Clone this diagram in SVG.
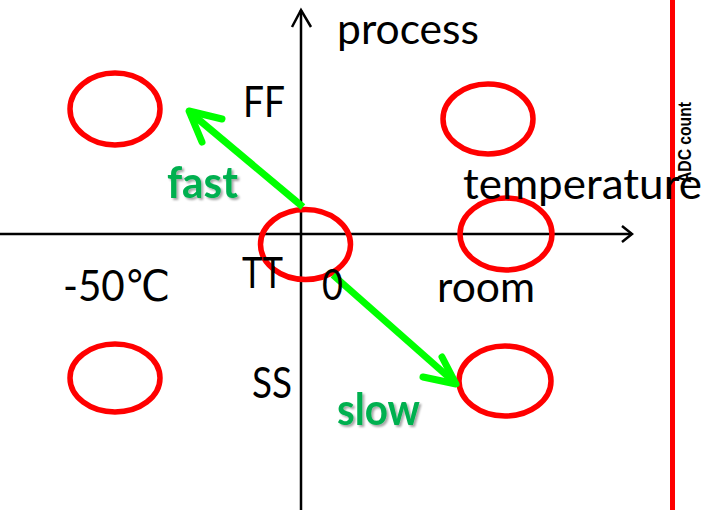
<svg xmlns="http://www.w3.org/2000/svg" width="705" height="510" viewBox="0 0 705 510">
  <style>
    .corner { fill: none; stroke: #ff0000; stroke-width: 5.5; }
    .axis { fill: none; stroke: #000; stroke-width: 2.5; }
    .label { font-family: Lato, "Liberation Sans", "DejaVu Sans", sans-serif; font-size: 43px; fill: #000; }
    .speed { font-family: Lato, "Liberation Sans", sans-serif; font-weight: bold; font-size: 43px; fill: #00b050; filter: url(#shadow); }
    .trend { fill: none; stroke: #00ff00; stroke-width: 7; }
    .head { fill: none; stroke: #00ff00; stroke-width: 7; stroke-linecap: round; stroke-linejoin: round; }
    .adc { font-family: "Liberation Sans", Arial, sans-serif; font-weight: 700; font-size: 19px; fill: #000; }
  </style>
  <defs>
    <filter id="shadow" x="-20%" y="-20%" width="150%" height="150%">
      <feDropShadow dx="2" dy="2" stdDeviation="1" flood-color="#000" flood-opacity="0.35"/>
    </filter>
  </defs>
  <rect width="705" height="510" fill="#fff"/>

  <!-- axes -->
  <g id="axes">
    <line class="axis" x1="301" y1="510" x2="301" y2="10"/>
    <polyline class="axis" points="292,27 301,10 311,27"/>
    <line class="axis" x1="0" y1="234" x2="632" y2="234"/>
    <polyline class="axis" points="622,226 632,234 622,242"/>
  </g>

  <!-- ADC count reference line -->
  <g id="adc">
    <line x1="672.5" y1="0" x2="672.5" y2="510" stroke="#ff0000" stroke-width="5"/>
    <text class="adc" transform="translate(691,183) rotate(-90)" textLength="81" lengthAdjust="spacingAndGlyphs">ADC count</text>
  </g>

  <!-- corner conditions -->
  <g id="ff-cold"><ellipse class="corner" cx="115" cy="109" rx="45" ry="36"/></g>
  <g id="ff-room"><ellipse class="corner" cx="488" cy="119" rx="45" ry="35"/></g>
  <g id="tt-zero"><ellipse class="corner" cx="305.5" cy="244.5" rx="45" ry="35"/></g>
  <g id="tt-room"><ellipse class="corner" cx="506" cy="234" rx="46" ry="36"/></g>
  <g id="ss-cold"><ellipse class="corner" cx="115" cy="378" rx="45" ry="34"/></g>
  <g id="ss-room"><ellipse class="corner" cx="505" cy="381" rx="46" ry="35"/></g>

  <!-- connectors -->
  <g id="connectors">
    <line class="trend" x1="303" y1="207" x2="192" y2="114"/>
    <polyline class="head" points="222,119 189,111 202,142"/>
    <line class="trend" x1="333" y1="275" x2="453" y2="381"/>
    <polyline class="head" points="442,357 456,384 423,377"/>
  </g>

  <!-- labels -->
  <g id="labels">
    <text class="label" x="337" y="44" textLength="142" lengthAdjust="spacingAndGlyphs">process</text>
    <text class="label" x="463" y="199" textLength="239" lengthAdjust="spacingAndGlyphs">temperature</text>
    <text class="label" x="243" y="117" textLength="42" lengthAdjust="spacingAndGlyphs">FF</text>
    <text class="label" x="242" y="288" textLength="41" lengthAdjust="spacingAndGlyphs">TT</text>
    <text class="label" x="252" y="398" textLength="40" lengthAdjust="spacingAndGlyphs">SS</text>
    <text class="label" x="322" y="300" textLength="21" lengthAdjust="spacingAndGlyphs">0</text>
    <text class="label" x="437" y="302" textLength="98" lengthAdjust="spacingAndGlyphs">room</text>
    <text class="label" x="63" y="301" textLength="107" lengthAdjust="spacingAndGlyphs">-50℃</text>
    <text class="speed" x="167" y="198" textLength="71" lengthAdjust="spacingAndGlyphs">fast</text>
    <text class="speed" x="337" y="425" textLength="83" lengthAdjust="spacingAndGlyphs">slow</text>
  </g>
</svg>
